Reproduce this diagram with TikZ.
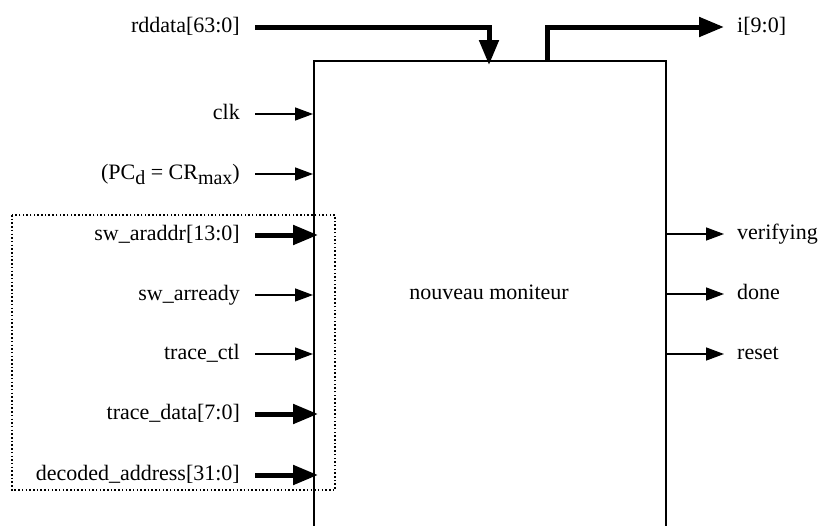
\documentclass[tikz,border=0pt]{standalone}
\usepackage{fontspec}
\setmainfont{Liberation Serif}
\usetikzlibrary{arrows.meta}
\begin{document}
\begin{tikzpicture}[x=1pt,y=-1pt,
  every node/.style={font=\fontsize{22}{26}\selectfont},
  sig/.style={line width=1.5pt,-{Triangle[length=18pt,width=13pt]}},
  bus/.style={line width=5pt,-{Triangle[length=25pt,width=19pt]}},
  inlbl/.style={anchor=east, inner xsep=15pt, inner ysep=0pt, text height=14pt, text depth=4pt},
  outlbl/.style={anchor=west, inner xsep=13pt, inner ysep=0pt, text height=14pt, text depth=4pt},
  blk/.style={draw, line width=1.5pt, inner sep=0pt, minimum width=352pt, minimum height=600pt, anchor=north west},
  grp/.style={draw, line width=1.5pt, dash pattern=on 1.5pt off 2.2pt},
]
\useasboundingbox (0,0) rectangle (819,525);
\clip (0,0) rectangle (819,525);
\fill[white] (0,0) rectangle (819,525);

% main block
\node[blk] (box) at (313,60) {};
\node[anchor=base] (title) at (489,299) {nouveau moniteur};

% dotted group
\draw[grp] (12,215) rectangle (335,490);

% input labels
\node[inlbl] (rddata) at (255,27) {rddata[63:0]};
\node[inlbl] (clk) at (255,114) {clk};
\node[inlbl] (pc) at (255,174) {(PC\raisebox{-5pt}{\fontsize{20}{22}\selectfont d} = CR\raisebox{-5pt}{\fontsize{20}{22}\selectfont max})};
\node[inlbl] (araddr) at (255,235) {sw\_araddr[13:0]};
\node[inlbl] (arready) at (255,295) {sw\_arready};
\node[inlbl] (tctl) at (255,354) {trace\_ctl};
\node[inlbl] (tdata) at (255,414) {trace\_data[7:0]};
\node[inlbl] (daddr) at (255,475) {decoded\_address[31:0]};

% output labels
\node[outlbl] (ilbl) at (724,27) {i[9:0]};
\node[outlbl] (verif) at (724,234) {verifying};
\node[outlbl] (done) at (724,294) {done};
\node[outlbl] (reset) at (724,354) {reset};

% top ports
\coordinate (rdin) at (489,60);
\coordinate (iout) at (547,60);
\draw[bus, shorten >=-5pt] (rddata.east) -| (rdin);
\draw[bus] (iout) |- (ilbl.west);

% input connectors
\draw[sig] (clk) -- (clk -| box.west);
\draw[sig] (pc) -- (pc -| box.west);
\draw[bus, shorten >=-5pt] (araddr) -- (araddr -| box.west);
\draw[sig] (arready) -- (arready -| box.west);
\draw[sig] (tctl) -- (tctl -| box.west);
\draw[bus, shorten >=-5pt] (tdata) -- (tdata -| box.west);
\draw[bus, shorten >=-5pt] (daddr) -- (daddr -| box.west);

% output connectors
\draw[sig] (verif -| box.east) -- (verif);
\draw[sig] (done -| box.east) -- (done);
\draw[sig] (reset -| box.east) -- (reset);
\end{tikzpicture}
\end{document}
